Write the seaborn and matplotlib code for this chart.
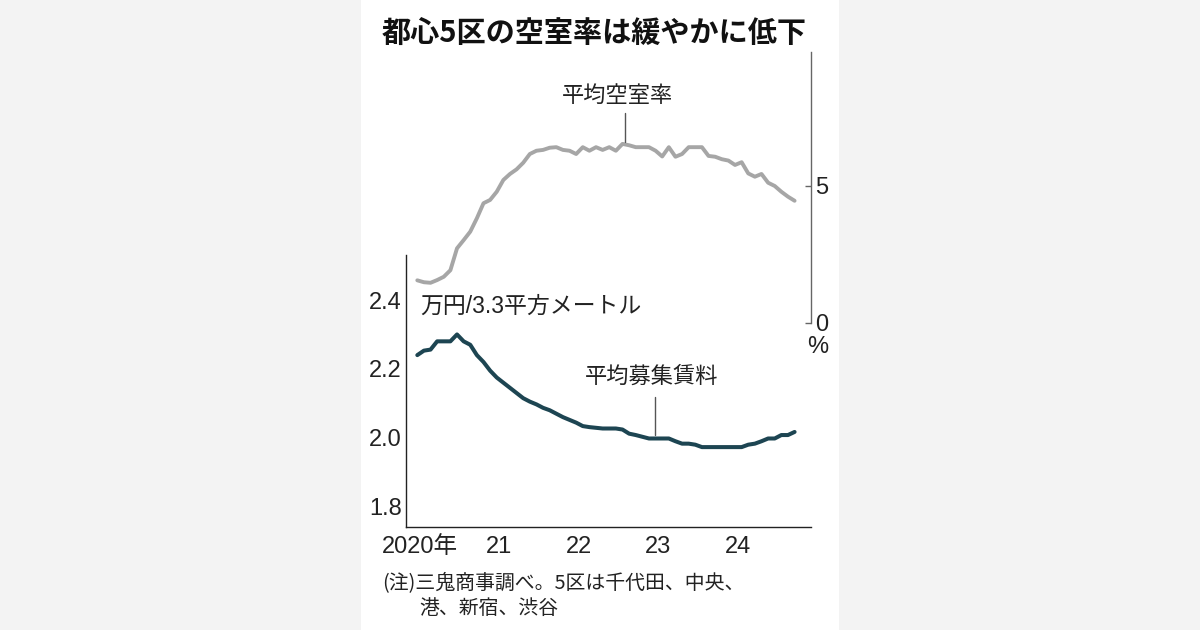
import numpy as np
import pandas as pd
import matplotlib
matplotlib.use("Agg")
import matplotlib.pyplot as plt
from matplotlib import font_manager
from matplotlib.patches import Rectangle
from matplotlib.lines import Line2D
import seaborn as sns

# ---- data (monthly, Jan 2020 - Oct 2024) ----
start_year = 2020
vacancy = [1.55, 1.48, 1.46, 1.56, 1.68, 1.92, 2.72, 3.02, 3.33, 3.82, 4.37, 4.49,
           4.79, 5.22, 5.44, 5.61, 5.85, 6.17, 6.29, 6.32, 6.40, 6.42, 6.32, 6.29,
           6.17, 6.42, 6.29, 6.42, 6.32, 6.42, 6.29, 6.54, 6.49, 6.42, 6.42, 6.42,
           6.29, 6.08, 6.42, 6.07, 6.17, 6.42, 6.42, 6.42, 6.10, 6.07, 5.98, 5.93,
           5.77, 5.87, 5.46, 5.34, 5.44, 5.12, 5.00, 4.79, 4.61, 4.46]
rent = [2.24, 2.253, 2.256, 2.28, 2.28, 2.28, 2.30, 2.28, 2.27, 2.24, 2.22, 2.195,
        2.175, 2.16, 2.145, 2.13, 2.115, 2.105, 2.097, 2.087, 2.08, 2.07, 2.06, 2.052,
        2.044, 2.034, 2.031, 2.029, 2.027, 2.027, 2.027, 2.024, 2.012, 2.008, 2.003, 1.998,
        1.998, 1.998, 1.998, 1.99, 1.983, 1.983, 1.98, 1.973, 1.973, 1.973, 1.973, 1.973,
        1.973, 1.973, 1.98, 1.983, 1.99, 1.998, 1.998, 2.008, 2.008, 2.017]
year_ticks = [2020, 2021, 2022, 2023, 2024]
year_labels = ["2020年", "21", "22", "23", "24"]
rent_ticks = [1.8, 2.0, 2.2, 2.4]
vacancy_ticks = [0, 5]

df = pd.DataFrame({
    "t": start_year + np.arange(len(rent)) / 12,
    "vacancy": vacancy,
    "rent": rent,
})

sns.set_theme(style="white")
names = {f.name for f in font_manager.fontManager.ttflist}
num_font = "Liberation Sans Narrow" if "Liberation Sans Narrow" in names else "Liberation Sans"
JP = "Noto Sans CJK JP"
plt.rcParams["font.family"] = [num_font, JP, "DejaVu Sans"]

W, H = 1200, 630
fig = plt.figure(figsize=(12, 6.3), dpi=100, facecolor="#f3f3f3")

def fx(px):
    return px / W

def fy(py):
    return 1 - py / H

# white card in the middle
fig.patches.append(Rectangle((fx(361), 0), fx(839) - fx(361), 1, transform=fig.transFigure,
                             facecolor="white", edgecolor="none", zorder=-5))

ax_l, ax_r = 405.5, 810.7
tick_off = 0.034
px_per_year = 79.43
xlim = (start_year + tick_off - (420 - ax_l) / px_per_year,
        start_year + tick_off + (ax_r - 420) / px_per_year)

# ---- lower axes: rent ----
ax = fig.add_axes([fx(ax_l), fy(527.3), fx(ax_r) - fx(ax_l), (527.3 - 255) / H])
ax.set_facecolor("none")
sns.lineplot(data=df, x="t", y="rent", ax=ax, color="#1d4552", linewidth=2.9)
ax.set_xlim(*xlim)
ax.set_ylim(1.8 - (527.3 - 506.7) / 344.5, 2.4 + (300 - 255) / 344.5)
ax.set_xticks([y + tick_off for y in year_ticks])
ax.set_xticklabels(year_labels)
ax.set_yticks(rent_ticks)
ax.set_yticklabels([f"{v:.1f}" for v in rent_ticks])
ax.set_xlabel("")
ax.set_ylabel("")
for s in ["top", "right"]:
    ax.spines[s].set_visible(False)
for s in ["left", "bottom"]:
    ax.spines[s].set_color("#222222")
    ax.spines[s].set_linewidth(1.0)
ax.tick_params(axis="both", direction="in", length=4, width=1, color="#222222",
               labelsize=17, labelcolor="#222222")
ax.tick_params(axis="y", pad=2.5)
ax.tick_params(axis="x", pad=6)

# ---- upper axes: vacancy ----
ax2 = fig.add_axes([fx(ax_l), fy(322.7), fx(ax_r) - fx(ax_l), (322.7 - 51.7) / H])
ax2.set_facecolor("none")
sns.lineplot(data=df, x="t", y="vacancy", ax=ax2, color="#a6a6a6", linewidth=2.8)
ax2.set_xlim(*xlim)
ax2.set_ylim(0, (322.7 - 51.7) / 27.34)
ax2.set_xticks([])
ax2.set_yticks(vacancy_ticks)
ax2.set_yticklabels([str(v) for v in vacancy_ticks])
ax2.yaxis.tick_right()
ax2.set_xlabel("")
ax2.set_ylabel("")
for s in ["top", "left", "bottom"]:
    ax2.spines[s].set_visible(False)
ax2.spines["right"].set_color("#666666")
ax2.spines["right"].set_linewidth(1.0)
ax2.tick_params(axis="y", direction="in", length=4, width=1, color="#666666",
                labelsize=17, labelcolor="#222222", pad=3)

# ---- texts ----
fig.text(fx(594), fy(33), "都心5区の空室率は緩やかに低下", family=JP, fontweight="bold",
         fontsize=21, ha="center", va="center", color="#111111")
fig.text(fx(617.5), fy(95), "平均空室率", family=JP, fontsize=16, ha="center", va="center",
         color="#222222")
fig.text(fx(420), fy(306), "万円/3.3平方メートル", family=[num_font, JP], fontsize=16.5,
         ha="left", va="center", color="#222222")
fig.text(fx(651.7), fy(376.7), "平均募集賃料", family=JP, fontsize=16, ha="center",
         va="center", color="#222222")
fig.text(fx(818), fy(347), "%", family=num_font, fontsize=17, ha="center", va="center",
         color="#222222")
fig.text(fx(381.7), fy(583), "(注)三鬼商事調べ。5区は千代田、中央、", family=JP,
         fontsize=14.3, ha="left", va="center", color="#222222")
fig.text(fx(419), fy(608), "港、新宿、渋谷", family=JP, fontsize=14.3, ha="left",
         va="center", color="#222222")

# leader lines
for x, y0, y1 in [(625, 113, 142), (655, 396.7, 435)]:
    fig.add_artist(Line2D([fx(x), fx(x)], [fy(y0), fy(y1)], transform=fig.transFigure,
                          color="#555555", linewidth=1.0))

fig.savefig("out.png", dpi=100, facecolor=fig.get_facecolor())
